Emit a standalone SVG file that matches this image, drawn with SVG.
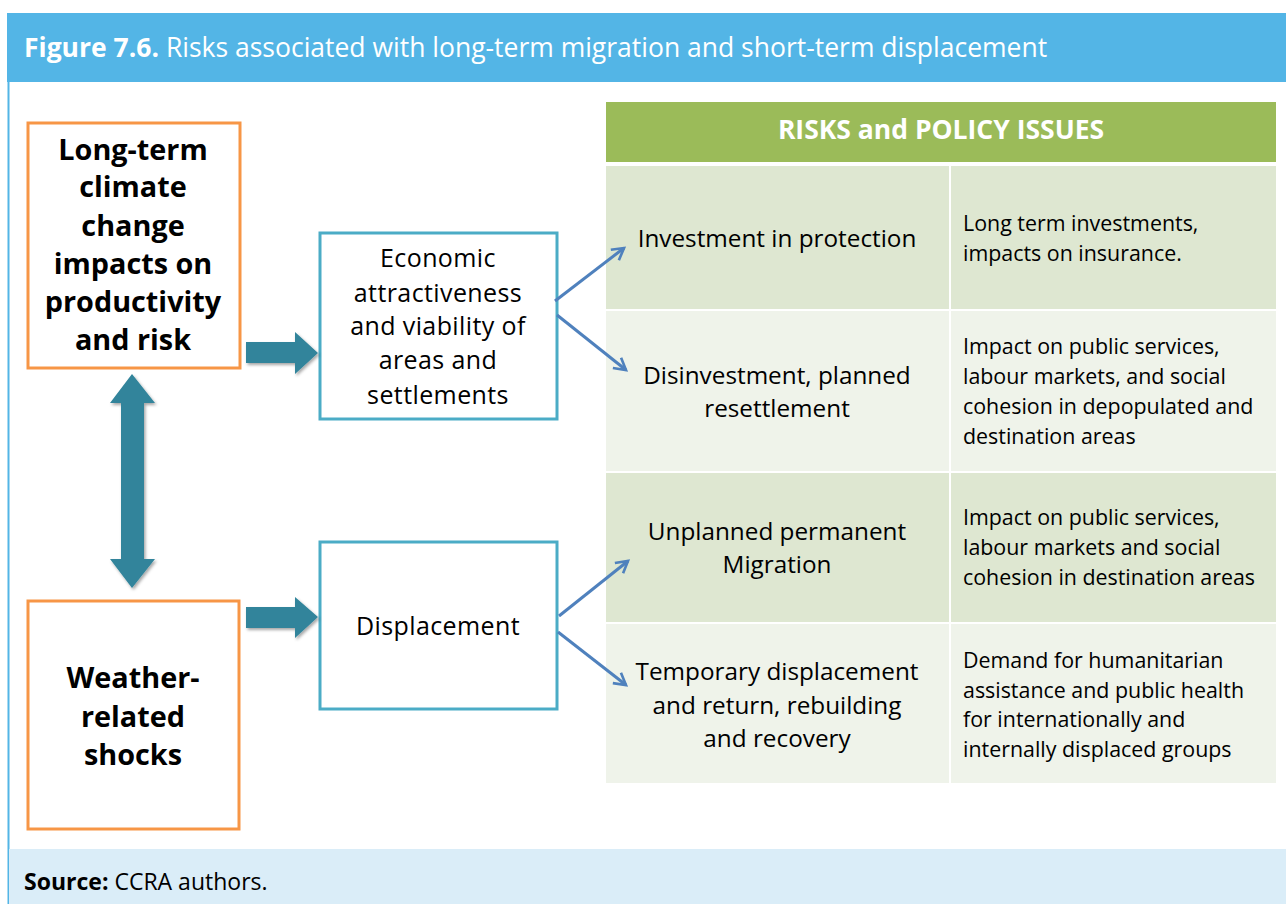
<svg xmlns="http://www.w3.org/2000/svg" width="1286" height="904" viewBox="0 0 1286 904">
<defs>
<style>
.t{font-family:"Open Sans","Liberation Sans",sans-serif;fill:#000}
.b{font-weight:bold}
.w{fill:#fff}
.c{text-anchor:middle}
.orange{fill:#fff;stroke:#f79646;stroke-width:3}
.teal{fill:#fff;stroke:#4bacc6;stroke-width:3}
.fat{fill:#31849b;filter:url(#sh)}
.thin{stroke:#4f81bd;stroke-width:3;fill:none;marker-end:url(#ah)}
.r1{fill:#dee7d1}
.r2{fill:#eff3ea}
</style>
<filter id="sh" x="-20%" y="-20%" width="150%" height="150%">
<feDropShadow dx="1.5" dy="2" stdDeviation="1.5" flood-color="#000" flood-opacity="0.35"/>
</filter>
<marker id="ah" viewBox="0 0 10 10" refX="8" refY="5" markerWidth="5.5" markerHeight="5.5" orient="auto" markerUnits="strokeWidth">
<path d="M1,1 L8,5 L1,9" fill="none" stroke="#4f81bd" stroke-width="1.6" stroke-linejoin="miter"/>
</marker>
</defs>
<rect width="1286" height="904" fill="#fff"/>
<g id="frame">
<rect x="7" y="13" width="1279" height="69" fill="#53b5e6"/>
<line x1="8.5" y1="82" x2="8.5" y2="904" stroke="#53b5e6" stroke-width="2"/>
<rect x="9" y="849" width="1277" height="55" fill="#daedf8"/>
<text class="t" x="24" y="57" font-size="26.5"><tspan class="b w">Figure 7.6.</tspan><tspan class="w"> Risks associated with long-term migration and short-term displacement</tspan></text>
<text class="t" x="24" y="890" font-size="23"><tspan class="b">Source:</tspan> CCRA authors.</text>
</g>
<g id="table">
<rect x="606" y="102" width="670" height="60" fill="#9bbb59"/>
<text class="t b w c" x="941" y="139" font-size="26.5">RISKS and POLICY ISSUES</text>
<rect x="606" y="166" width="343" height="143" class="r1"/>
<rect x="951" y="166" width="325" height="143" class="r1"/>
<rect x="606" y="311" width="343" height="160" class="r2"/>
<rect x="951" y="311" width="325" height="160" class="r2"/>
<rect x="606" y="473" width="343" height="149" class="r1"/>
<rect x="951" y="473" width="325" height="149" class="r1"/>
<rect x="606" y="624" width="343" height="159" class="r2"/>
<rect x="951" y="624" width="325" height="159" class="r2"/>
<g class="t c" font-size="24.3">
<text x="777" y="247">Investment in protection</text>
<text x="777" y="384">Disinvestment, planned</text>
<text x="777" y="417">resettlement</text>
<text x="777" y="540">Unplanned permanent</text>
<text x="777" y="573">Migration</text>
<text x="777" y="680">Temporary displacement</text>
<text x="777" y="714">and return, rebuilding</text>
<text x="777" y="747">and recovery</text>
</g>
<g class="t" font-size="21.4">
<text x="963" y="231">Long term investments,</text>
<text x="963" y="261">impacts on insurance.</text>
<text x="963" y="354">Impact on public services,</text>
<text x="963" y="384">labour markets, and social</text>
<text x="963" y="414">cohesion in depopulated and</text>
<text x="963" y="444">destination areas</text>
<text x="963" y="525">Impact on public services,</text>
<text x="963" y="555">labour markets and social</text>
<text x="963" y="585">cohesion in destination areas</text>
<text x="963" y="668">Demand for humanitarian</text>
<text x="963" y="698">assistance and public health</text>
<text x="963" y="727">for internationally and</text>
<text x="963" y="757">internally displaced groups</text>
</g>
</g>
<g id="node-longterm">
<rect x="28" y="123" width="212" height="245" class="orange"/>
<g class="t b c" font-size="28.8">
<text x="133" y="160">Long-term</text>
<text x="133" y="197">climate</text>
<text x="133" y="236">change</text>
<text x="133" y="274">impacts on</text>
<text x="133" y="312">productivity</text>
<text x="133" y="350">and risk</text>
</g>
</g>
<g id="node-weather">
<rect x="28" y="601" width="211" height="228" class="orange"/>
<g class="t b c" font-size="28.8">
<text x="133" y="688">Weather-</text>
<text x="133" y="727">related</text>
<text x="133" y="765">shocks</text>
</g>
</g>
<g id="node-economic">
<rect x="320" y="233" width="237" height="186" class="teal"/>
<g class="t c" font-size="25" letter-spacing="0.4">
<text x="438" y="267">Economic</text>
<text x="438" y="302">attractiveness</text>
<text x="438" y="335">and viability of</text>
<text x="438" y="369">areas and</text>
<text x="438" y="404">settlements</text>
</g>
</g>
<g id="node-displacement">
<rect x="320" y="542" width="237" height="167" class="teal"/>
<text class="t c" x="438" y="635" font-size="25" letter-spacing="0.4">Displacement</text>
</g>
<g id="connectors">
<path class="fat" d="M132,374 L155,403 L144,403 L144,559 L155,559 L132,588 L110,559 L121,559 L121,403 L110,403 Z"/>
<path class="fat" d="M246,342 L295,342 L295,332 L318,353 L295,374 L295,363 L246,363 Z"/>
<path class="fat" d="M246,607 L295,607 L295,597 L318,617 L295,638 L295,628 L246,628 Z"/>
<line class="thin" x1="555" y1="301" x2="624" y2="248"/>
<line class="thin" x1="557" y1="315" x2="626" y2="370"/>
<line class="thin" x1="559" y1="616" x2="628" y2="561"/>
<line class="thin" x1="558" y1="632" x2="626" y2="685"/>
</g>
</svg>
